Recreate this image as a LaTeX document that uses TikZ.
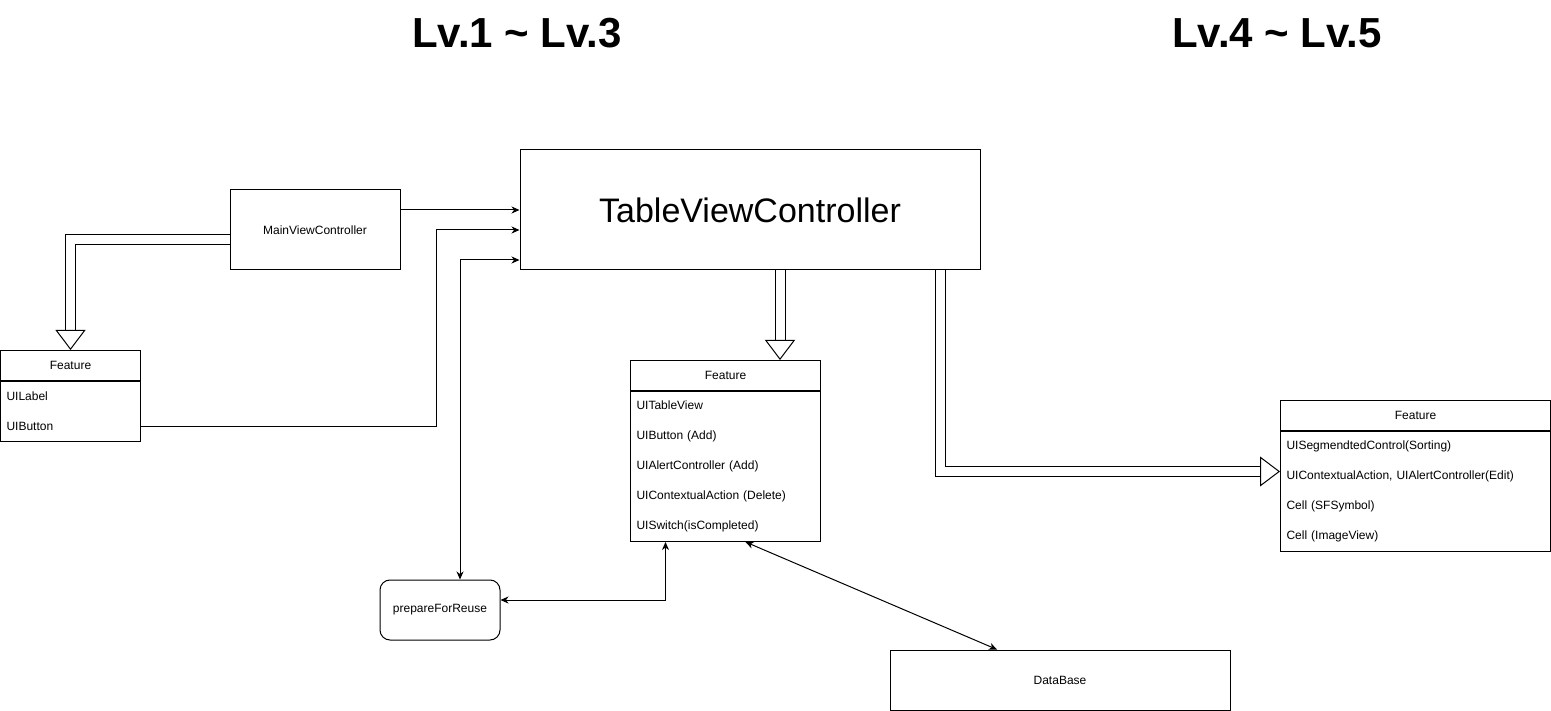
\documentclass[tikz,border=0pt]{standalone}
\usepackage{fontspec}
\setmainfont{Liberation Sans}
\usetikzlibrary{positioning,arrows.meta}
\tikzset{
  box/.style={draw, line width=1pt, inner sep=0pt, font=\fontsize{12}{14}\selectfont},
  fhead/.style={box, minimum height=30pt},
  fbody/.style={box, align=left, inner xsep=6pt, inner ysep=0pt,
                font=\fontsize{12}{30}\selectfont},
  link/.style={line width=1pt, {Stealth[length=8pt,width=7pt,inset=2.5pt]}-{Stealth[length=8pt,width=7pt,inset=2.5pt]}},
  link1/.style={line width=1pt, -{Stealth[length=8pt,width=7pt,inset=2.5pt]}},
  hollow/.style={double, double distance=9pt, line width=1pt,
                 -{Triangle[open, width=30pt, length=20pt, line width=1pt]}},
  level/.style={font=\fontsize{42}{50}\selectfont\bfseries}
}

\begin{document}
\begin{tikzpicture}[x=1pt, y=-1pt]
                   \useasboundingbox (0,0) rectangle (1551,711);
                   \node[level] (lvA) at (517,33) {Lv.1 \textasciitilde{} Lv.3};
                   \node[level] (lvB) at (1277,33) {Lv.4 \textasciitilde{} Lv.5};

                   \node[box, minimum width=460pt, minimum height=120pt,
                         font=\fontsize{34}{40}\selectfont] (tvc) at (750,210) {TableViewController};
                   \node[box, minimum width=170pt, minimum height=80pt] (mvc) at (315,230) {MainViewController};

                   \node[fhead, minimum width=140pt, anchor=north west] (aHead) at (0,350) {Feature};
                   \node[fbody, text width=128pt, minimum height=60pt, below=0pt of aHead] (aBody) {UILabel\\UIButton};

                   \node[fhead, minimum width=190pt, anchor=north west] (bHead) at (630,360) {Feature};
                   \node[fbody, text width=178pt, minimum height=150pt, below=0pt of bHead] (bBody) {
                          UITableView\\
                          UIButton (Add)\\
                          UIAlertController (Add)\\
                          UIContextualAction (Delete)\\
                          UISwitch(isCompleted)};

                   \node[fhead, minimum width=270pt, anchor=north west] (cHead) at (1280,400) {Feature};
                   \node[fbody, text width=258pt, minimum height=120pt, below=0pt of cHead] (cBody) {
                          UISegmendtedControl(Sorting)\\
                          UIContextualAction, UIAlertController(Edit)\\
                          Cell (SFSymbol)\\
                          Cell (ImageView)};

                   \node[box, rounded corners=10pt, minimum width=120pt, minimum height=60pt] (prep) at (440,610) {prepareForReuse};
                   \node[box, minimum width=340pt, minimum height=60pt] (db) at (1060,680) {DataBase};

                   \draw[link1] ([yshift=20pt]mvc.east) -- (tvc.west);
                   \draw[link1] ([yshift=-15pt]aBody.east) -- ++(295,0) |- ([yshift=-20pt]tvc.west);
                   \draw[link] ([xshift=20pt]prep.north) |- ([yshift=-50pt]tvc.west);
                   \draw[link] ([yshift=10pt]prep.east) -| ([xshift=-60pt]bBody.south);
                   \draw[link] ([xshift=20pt]bBody.south) -- ([xshift=-63pt]db.north);

                   \draw[hollow] ([yshift=-10pt]mvc.west) -| (aHead.north);
                   \draw[hollow] ([xshift=30pt]tvc.south) -- ([xshift=30pt]tvc.south |- bHead.north);
                   \draw[hollow] ([xshift=190pt]tvc.south) |- ([yshift=20pt]cBody.west);
                \end{tikzpicture}
\end{document}
